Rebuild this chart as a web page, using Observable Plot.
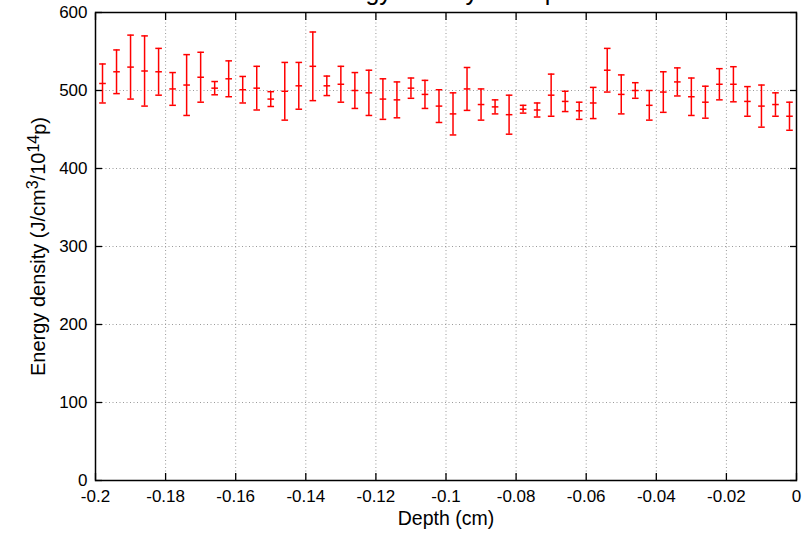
<!DOCTYPE html>
<html><head><meta charset="utf-8">
<script src="https://cdn.jsdelivr.net/npm/d3@7"></script>
<script src="https://cdn.jsdelivr.net/npm/@observablehq/plot@0.6"></script>
<style>
body{margin:0;background:#fff}
#chart svg{font-family:"Liberation Sans",Arial,Helvetica,sans-serif;display:block}
</style>
</head><body><div id="chart"></div>
<script>
const title = "Energy density vs depth";
const xLabel = "Depth (cm)";
const yLabel = "Energy density (J/cm³/10¹⁴p)";
const depth = [-0.198,-0.194,-0.190,-0.186,-0.182,-0.178,-0.174,-0.170,-0.166,-0.162,
  -0.158,-0.154,-0.150,-0.146,-0.142,-0.138,-0.134,-0.130,-0.126,-0.122,
  -0.118,-0.114,-0.110,-0.106,-0.102,-0.098,-0.094,-0.090,-0.086,-0.082,
  -0.078,-0.074,-0.070,-0.066,-0.062,-0.058,-0.054,-0.050,-0.046,-0.042,
  -0.038,-0.034,-0.030,-0.026,-0.022,-0.018,-0.014,-0.010,-0.006,-0.002];
const energy = [509,524,530,525,524,502,507,517,503,515,
  501,503,489,499,506,531,506,508,500,497,
  489,488,503,495,480,470,502,482,479,469,
  476,475,494,486,474,484,526,495,500,481,
  498,511,492,485,508,508,486,480,482,467];
const error = [25,28,41,45,30,21,39,32,8.5,23,
  17,28,9.5,37,30,44,12.5,23,23,29,
  26,23,13,18,21,27,27.5,20,9,25,
  5,9,27,13,11,20,28,25,10,19,
  26,18,24,20.5,20,22.5,19,27,15,18];
const xTicks = [-0.2,-0.18,-0.16,-0.14,-0.12,-0.1,-0.08,-0.06,-0.04,-0.02,0];
const xTickLabels = ["-0.2","-0.18","-0.16","-0.14","-0.12","-0.1","-0.08","-0.06","-0.04","-0.02","0"];
const yTicks = [0,100,200,300,400,500,600];
const yTickLabels = ["0","100","200","300","400","500","600"];

const data = depth.map((d, i) => ({x: d, y: energy[i], lo: energy[i] - error[i], hi: energy[i] + error[i]}));
const hline = {draw(ctx, size) { const r = Math.sqrt(size / Math.PI); ctx.moveTo(-r, 0); ctx.lineTo(r, 0); }};
const red = "#ff0000";

const chart = Plot.plot({
  width: 810, height: 533,
  marginLeft: 95, marginRight: 14, marginTop: 12, marginBottom: 53,
  x: {domain: [-0.2, 0]},
  y: {domain: [0, 600]},
  marks: [
    Plot.gridX(xTicks.slice(1, -1), {stroke: "#9a9a9a", strokeOpacity: 1, strokeDasharray: "1,2.5"}),
    Plot.gridY(yTicks.slice(1, -1), {stroke: "#9a9a9a", strokeOpacity: 1, strokeDasharray: "1,2.5"}),
    Plot.axisX(xTicks, {anchor: "bottom", tickSize: -7, tickFormat: () => "", label: null, strokeWidth: 1.3}),
    Plot.axisX(xTicks, {anchor: "top", tickSize: -7, tickFormat: () => "", label: null, strokeWidth: 1.3}),
    Plot.axisY(yTicks, {anchor: "left", tickSize: -7, tickFormat: () => "", label: null, strokeWidth: 1.3}),
    Plot.axisY(yTicks, {anchor: "right", tickSize: -7, tickFormat: () => "", label: null, strokeWidth: 1.3}),
    Plot.axisX(xTicks, {anchor: "bottom", tickSize: 0, tickPadding: 9, tickFormat: (d, i) => xTickLabels[i], fontSize: 17, fill: "#000", label: null}),
    Plot.axisY(yTicks, {anchor: "left", tickSize: 0, tickPadding: 8, tickFormat: (d, i) => yTickLabels[i], fontSize: 17, fill: "#000", label: null}),
    Plot.frame({stroke: "#000", strokeWidth: 1.5}),
    Plot.ruleX(data, {x: "x", y1: "lo", y2: "hi", stroke: red, strokeWidth: 1.5}),
    Plot.dot(data, {x: "x", y: "lo", symbol: hline, r: 3.3, stroke: red, strokeWidth: 1.5}),
    Plot.dot(data, {x: "x", y: "hi", symbol: hline, r: 3.3, stroke: red, strokeWidth: 1.5}),
    Plot.dot(data, {x: "x", y: "y", symbol: hline, r: 3.3, stroke: red, strokeWidth: 1.5}),
    Plot.text([xLabel], {frameAnchor: "bottom", lineAnchor: "middle", textAnchor: "middle", dy: 38, fontSize: 19.5, fill: "#000"}),
    Plot.text([yLabel], {frameAnchor: "left", lineAnchor: "middle", textAnchor: "middle", dx: -57, rotate: -90, fontSize: 20, fill: "#000"}),
    Plot.text([title], {frameAnchor: "top", lineAnchor: "middle", textAnchor: "middle", dy: -21, fontSize: 25, fill: "#000"})
  ]
});
document.getElementById("chart").appendChild(chart);

// render proper superscripts in the y label
d3.select(chart).selectAll("text").filter(function() { return this.textContent === yLabel; })
  .each(function() {
    const t = d3.select(this);
    t.text(null);
    t.append("tspan").text("Energy density (J/cm");
    t.append("tspan").attr("dy", "-0.45em").attr("font-size", "0.8em").text("3");
    t.append("tspan").attr("dy", "0.36em").text("/10");
    t.append("tspan").attr("dy", "-0.36em").attr("font-size", "0.8em").text("14");
    t.append("tspan").attr("dy", "0.36em").text("p)");
  });
</script>
</body></html>
